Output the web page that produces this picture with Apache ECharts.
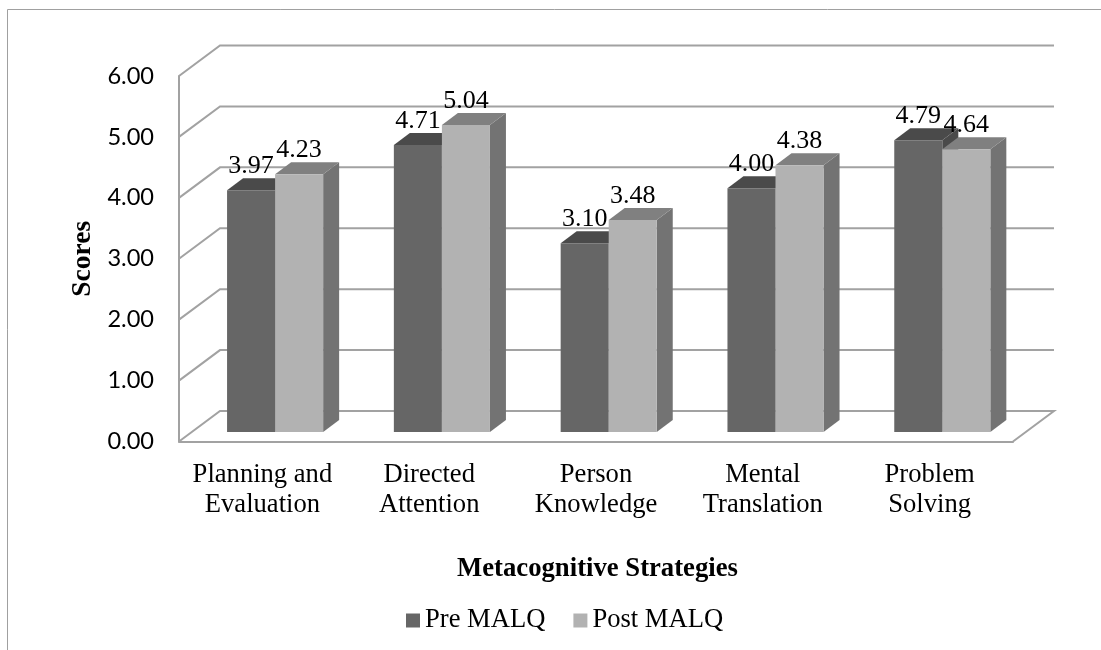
<!DOCTYPE html>
<html>
<head>
<meta charset="utf-8">
<title>Metacognitive Strategies</title>
<script src="https://cdn.jsdelivr.net/npm/echarts@6/dist/echarts.min.js"></script>
<style>
  html, body { margin: 0; padding: 0; background: #fff; }
  #chart { width: 1101px; height: 650px; }
</style>
</head>
<body>
<div id="chart"></div>
<script>
const categories = ['Planning and\nEvaluation', 'Directed\nAttention', 'Person\nKnowledge', 'Mental\nTranslation', 'Problem\nSolving'];
const preMalq = [3.97, 4.71, 3.10, 4.00, 4.79];
const postMalq = [4.23, 5.04, 3.48, 4.38, 4.64];
const scoreTicks = [0, 1, 2, 3, 4, 5, 6];

// Oblique projection: screen shift of the back wall and of the bars' front and rear planes.
const WALL_DX = 41, WALL_DY = -30.5;
const BAR_FRONT_DX = 12.7, BAR_FRONT_DY = -9.5;
const BAR_DEPTH_DX = 16, BAR_DEPTH_DY = -12;
const BAR_WIDTH_RATIO = 0.288;

const SERIF = '"Liberation Serif", "Times New Roman", serif';
const WALL_COLOR = '#a2a2a2';

function renderWall(params, api) {
  const v = api.value(0);
  const cs = params.coordSys;
  const y = api.coord([0, v])[1];
  const x0 = cs.x, x1 = cs.x + cs.width;
  const style = { stroke: WALL_COLOR, lineWidth: 2, fill: 'none' };
  const pts = [[x0, y], [x0 + WALL_DX, y + WALL_DY], [x1 + WALL_DX, y + WALL_DY]];
  if (v === 0) pts.push([x1, y]);
  return { type: 'polyline', shape: { points: pts }, style: style, silent: true };
}

function barRenderer(side, faceColor, topColor, sideColor) {
  return function (params, api) {
    const cat = api.value(0), val = api.value(1);
    const w = api.size([1, 0])[0] * BAR_WIDTH_RATIO;
    const top = api.coord([cat, val]);
    const base = api.coord([cat, 0]);
    const xl = top[0] + BAR_FRONT_DX + (side === 0 ? -w : 0);
    const xr = xl + w;
    const yt = top[1] + BAR_FRONT_DY;
    const yb = base[1] + BAR_FRONT_DY;
    const dx = BAR_DEPTH_DX, dy = BAR_DEPTH_DY;
    return {
      type: 'group',
      children: [
        { type: 'polygon', shape: { points: [[xr, yt], [xr + dx, yt + dy], [xr + dx, yb + dy], [xr, yb]] }, style: { fill: sideColor } },
        { type: 'polygon', shape: { points: [[xl, yt], [xl + dx, yt + dy], [xr + dx, yt + dy], [xr, yt]] }, style: { fill: topColor } },
        { type: 'rect', shape: { x: xl, y: yt, width: w, height: yb - yt }, style: { fill: faceColor } },
        {
          type: 'text', z2: 50,
          style: {
            x: (xl + xr) / 2, y: yt - 24,
            text: val.toFixed(2),
            fill: '#000', font: '26px ' + SERIF,
            align: 'center', verticalAlign: 'middle'
          }
        }
      ]
    };
  };
}

const chart = echarts.init(document.getElementById('chart'), null, { renderer: 'canvas' });
chart.setOption({
  animation: false,
  backgroundColor: '#fff',
  textStyle: { fontFamily: SERIF },
  graphic: [
    { type: 'polyline', silent: true, shape: { points: [[7.5, 650], [7.5, 9.5], [1101, 9.5]] }, style: { stroke: '#a0a0a0', lineWidth: 1, fill: 'none' } }
  ],
  grid: { left: 179, top: 76, width: 834, height: 365.5, containLabel: false },
  legend: {
    left: 406, top: 607,
    padding: 0,
    itemWidth: 14, itemHeight: 14, itemGap: 28,
    icon: 'rect',
    data: ['Pre MALQ', 'Post MALQ'],
    textStyle: { fontFamily: SERIF, fontSize: 26.6, color: '#000', padding: [0, 0, 0, 0] }
  },
  xAxis: {
    type: 'category',
    data: categories,
    name: 'Metacognitive Strategies',
    nameLocation: 'middle',
    nameGap: 114,
    nameTextStyle: { fontFamily: SERIF, fontWeight: 'bold', fontSize: 26.7, color: '#000', padding: [0, 0, 0, 3] },
    axisLine: { lineStyle: { color: WALL_COLOR, width: 2 } },
    axisTick: { show: false },
    axisLabel: { fontFamily: SERIF, fontSize: 26.6, color: '#000', lineHeight: 30, margin: 19, interval: 0 }
  },
  yAxis: {
    type: 'value',
    min: 0, max: 6, interval: 1,
    name: 'Scores',
    nameLocation: 'middle',
    nameGap: 78,
    nameTextStyle: { fontFamily: SERIF, fontWeight: 'bold', fontSize: 27.5, color: '#000' },
    axisLine: { show: true, lineStyle: { color: WALL_COLOR, width: 2 } },
    axisTick: { show: false },
    splitLine: { show: false },
    axisLabel: { fontFamily: 'Lato', fontSize: 23.6, color: '#000', margin: 25, formatter: v => v.toFixed(2) }
  },
  series: [
    {
      type: 'custom', name: 'walls', z: 1, clip: false, silent: true,
      renderItem: renderWall,
      encode: { y: 0 },
      data: scoreTicks.map(v => [v])
    },
    {
      type: 'custom', name: 'Pre MALQ', z: 2, clip: false,
      itemStyle: { color: '#666666' },
      renderItem: barRenderer(0, '#666666', '#4a4a4a', '#4a4a4a'),
      encode: { x: 0, y: 1 },
      data: preMalq.map((v, i) => [i, v])
    },
    {
      type: 'custom', name: 'Post MALQ', z: 3, clip: false,
      itemStyle: { color: '#b2b2b2' },
      renderItem: barRenderer(1, '#b2b2b2', '#808080', '#737373'),
      encode: { x: 0, y: 1 },
      data: postMalq.map((v, i) => [i, v])
    }
  ]
});
</script>
</body>
</html>
